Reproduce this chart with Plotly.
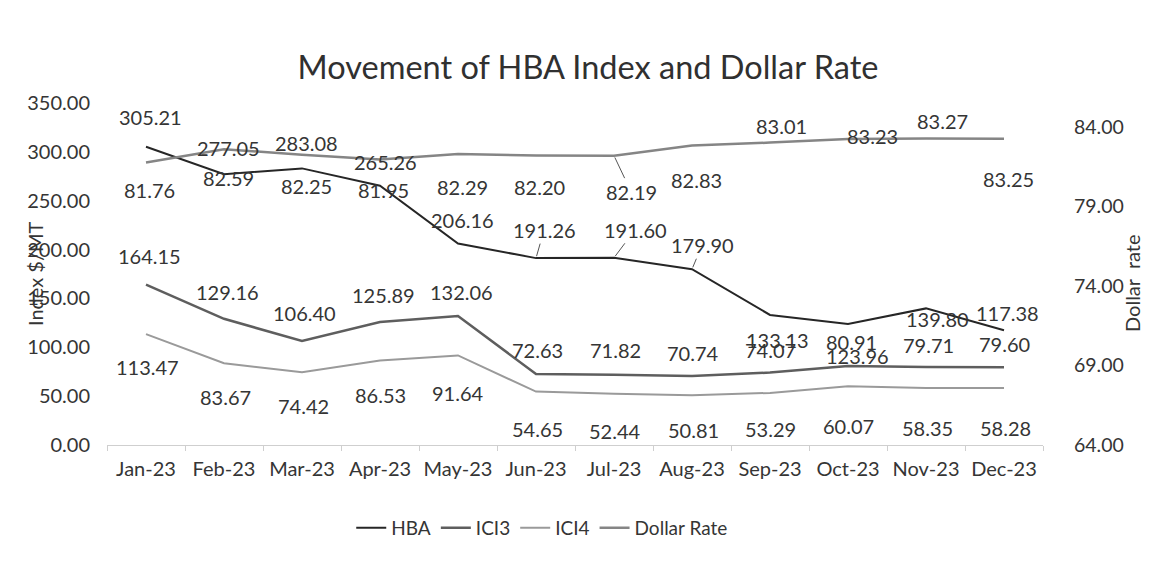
import plotly.graph_objects as go

months = ["Jan-23", "Feb-23", "Mar-23", "Apr-23", "May-23", "Jun-23",
          "Jul-23", "Aug-23", "Sep-23", "Oct-23", "Nov-23", "Dec-23"]
hba = [305.21, 277.05, 283.08, 265.26, 206.16, 191.26, 191.60, 179.90, 133.13, 123.96, 139.80, 117.38]
ici3 = [164.15, 129.16, 106.40, 125.89, 132.06, 72.63, 71.82, 70.74, 74.07, 80.91, 79.71, 79.60]
ici4 = [113.47, 83.67, 74.42, 86.53, 91.64, 54.65, 52.44, 50.81, 53.29, 60.07, 58.35, 58.28]
dollar = [81.76, 82.59, 82.25, 81.95, 82.29, 82.20, 82.19, 82.83, 83.01, 83.23, 83.27, 83.25]

left_ticks = [0, 50, 100, 150, 200, 250, 300, 350]
right_ticks = [64, 69, 74, 79, 84]

# label placement (screen px offsets; dy positive = downwards)
hba_dx = [4, 4, 4, 5, 4, 8, 21, 10, 7, 9, 11, 3]
hba_dy = [-30, -26, -25, -24, -24, -28, -28, -24, 25, 32, 11, -17]
ici3_dx = [3, 3, 2, 3, 3, 1, 1, 1, 0, 3, 2, 0]
ici3_dy = [-29, -27, -28, -27, -24, -24, -25, -23, -23, -24, -22, -23]
ici4_dx = [1, 1, 1, 0, 0, 1, 1, 1, 0, 0, 1, 1]
ici4_dy = [33, 34, 34, 35, 38, 37, 37, 35, 36, 40, 40, 40]
dol_dx = [3, 4, 4, 3, 4, 3, 17, 4, 11, 24, 16, 4]
dol_dy = [28, 29, 31, 31, 33, 32, 36, 35, -17, -3, -17, 40]
hba_leader = [5, 6, 7]
dol_leader = [6]

FONT = "Lato"
TXT = "#353535"

fig = go.Figure()
fig.add_trace(go.Scatter(x=months, y=hba, name="HBA", mode="lines",
                         line=dict(color="#262626", width=2)))
fig.add_trace(go.Scatter(x=months, y=ici3, name="ICI3", mode="lines",
                         line=dict(color="#5e5e5e", width=2.5)))
fig.add_trace(go.Scatter(x=months, y=ici4, name="ICI4", mode="lines",
                         line=dict(color="#9a9a9a", width=2)))
fig.add_trace(go.Scatter(x=months, y=dollar, name="Dollar Rate", mode="lines",
                         line=dict(color="#858585", width=2.5), yaxis="y2"))

annotations = []


def add_labels(vals, dxs, dys, yref, leaders):
    for i, (m, v) in enumerate(zip(months, vals)):
        base = dict(x=m, y=v, xref="x", yref=yref, text=f"{v:.2f}",
                    font=dict(family=FONT, size=20, color=TXT))
        if i in leaders:
            base.update(showarrow=True, ax=dxs[i], ay=dys[i], axref="pixel", ayref="pixel",
                        arrowhead=0, arrowwidth=1, arrowcolor="#555555", standoff=2)
        else:
            base.update(showarrow=False, xshift=dxs[i], yshift=-dys[i])
        annotations.append(base)


add_labels(hba, hba_dx, hba_dy, "y", hba_leader)
add_labels(ici3, ici3_dx, ici3_dy, "y", [])
add_labels(ici4, ici4_dx, ici4_dy, "y", [])
add_labels(dollar, dol_dx, dol_dy, "y2", dol_leader)

# axis titles
annotations.append(dict(text="Index $/MT", xref="paper", yref="paper",
                        x=(35 - 107) / 936, y=0.5, xanchor="center", yanchor="middle",
                        textangle=-90, showarrow=False,
                        font=dict(family=FONT, size=20, color=TXT)))
annotations.append(dict(text="Dollar&nbsp;&nbsp;rate", xref="paper", yref="paper",
                        x=(1132 - 107) / 936, y=(445 - 283) / 342, xanchor="center", yanchor="middle",
                        textangle=-90, showarrow=False,
                        font=dict(family=FONT, size=20, color=TXT)))

fig.update_layout(
    width=1158, height=563,
    margin=dict(l=107, r=115, t=103, b=118),
    paper_bgcolor="white", plot_bgcolor="white",
    font=dict(family=FONT, color=TXT),
    title=dict(text="Movement of HBA Index and Dollar Rate",
               x=588 / 1158, xanchor="center", xref="container",
               y=1 - 68 / 563, yanchor="middle", yref="container",
               font=dict(family=FONT, size=32.5, color="#303030")),
    xaxis=dict(type="category", range=[-0.5, 11.5], showline=True, linecolor="#cfcfcf",
               linewidth=1, ticks="outside", tickson="boundaries", ticklen=5,
               tickcolor="#cfcfcf", showgrid=False, ticklabelstandoff=6,
               tickfont=dict(family=FONT, size=20, color=TXT)),
    yaxis=dict(range=[0, 350], tickvals=left_ticks, tickformat=".2f", showgrid=False,
               zeroline=False, showline=False, ticklabelstandoff=16,
               tickfont=dict(family=FONT, size=20, color=TXT)),
    yaxis2=dict(range=[64, 85.5], tickvals=right_ticks, tickformat=".2f", overlaying="y",
                side="right", showgrid=False, zeroline=False, showline=False,
                ticklabelstandoff=30,
                tickfont=dict(family=FONT, size=19.5, color=TXT)),
    legend=dict(orientation="h", x=0.465, xanchor="center", y=(445 - 528) / 342,
                yanchor="middle", font=dict(family=FONT, size=19, color=TXT),
                bgcolor="rgba(0,0,0,0)"),
    showlegend=True,
    annotations=annotations,
)

fig.write_html("out.html")
